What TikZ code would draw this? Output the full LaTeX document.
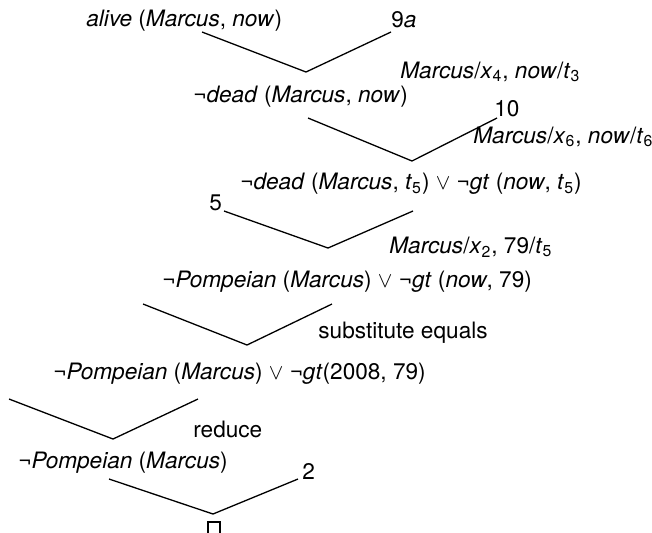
\documentclass[tikz,border=0pt]{standalone}
\usepackage{fontspec}
\setmainfont{TeX Gyre Heros}
\usetikzlibrary{calc,positioning}
\tikzset{
  res/clause/.style={inner sep=0pt, anchor=west, font=\fontsize{11.3pt}{13.5pt}\selectfont},
  res/label/.style={res/clause},
  res/subst/.style={res/clause},
  res/arm/.style={line width=0.65pt},
  res/empty/.style={draw, rectangle, line width=0.6pt, minimum size=6pt, inner sep=0pt}
}

\begin{document}
\begin{tikzpicture}[x=0.5pt,y=-0.5pt]
  \useasboundingbox (0,0) rectangle (652,532);

  % clauses
  \node[res/clause] (c1) at (86,21) {\textit{alive} (\textit{Marcus}, \textit{now})};
  \node[res/clause] (c2) at (193,97) {\textit{¬dead} (\textit{Marcus}, \textit{now})};
  \node[res/clause] (c3) at (240,184) {\textit{¬dead} (\textit{Marcus}, \textit{t}\textsubscript{5}) $\vee$ \textit{¬gt} (\textit{now}, \textit{t}\textsubscript{5})};
  \node[res/clause] (c4) at (162,282) {\textit{¬Pompeian} (\textit{Marcus}) $\vee$ \textit{¬gt} (\textit{now}, 79)};
  \node[res/clause] (c5) at (53,374) {\textit{¬Pompeian} (\textit{Marcus}) $\vee$ \textit{¬gt}(2008, 79)};
  \node[res/clause] (c6) at (18,463) {\textit{¬Pompeian} (\textit{Marcus})};
  \node[res/empty] (nil) at (214,528) {};

  % axiom numbers
  \node[res/label] (a9) at (391,20) {9\textit{a}};
  \node[res/label] (a10) at (494,109) {10};
  \node[res/label] (a5) at (209,203) {5};
  \node[res/label] (a2) at (302,471) {2};

  % substitutions
  \node[res/subst] (s1) at (400,72) {\textit{Marcus}/\textit{x}\textsubscript{4}, \textit{now}/\textit{t}\textsubscript{3}};
  \node[res/subst] (s2) at (473,137) {\textit{Marcus}/\textit{x}\textsubscript{6}, \textit{now}/\textit{t}\textsubscript{6}};
  \node[res/subst] (s3) at (389,247) {\textit{Marcus}/\textit{x}\textsubscript{2}, 79/\textit{t}\textsubscript{5}};
  \node[res/subst] (s4) at (318,333) {substitute equals};
  \node[res/subst] (s5) at (193,429) {reduce};

  % resolution steps
  \foreach \v/\x/\y/\h in {v1/306/72/40, v2/412/161/43, v3/328/248/37,
                           v4/247/345/41, v5/113/439/40, v6/213/514/35} {
    \coordinate (\v) at (\x,\y);
    \coordinate (\v-l) at ($(\v)+(-104,-\h)$);
    \coordinate (\v-r) at ($(\v)+(85,-\h)$);
    \draw[res/arm] (\v-l) -- (\v) -- (\v-r);
  }
\end{tikzpicture}
\end{document}
